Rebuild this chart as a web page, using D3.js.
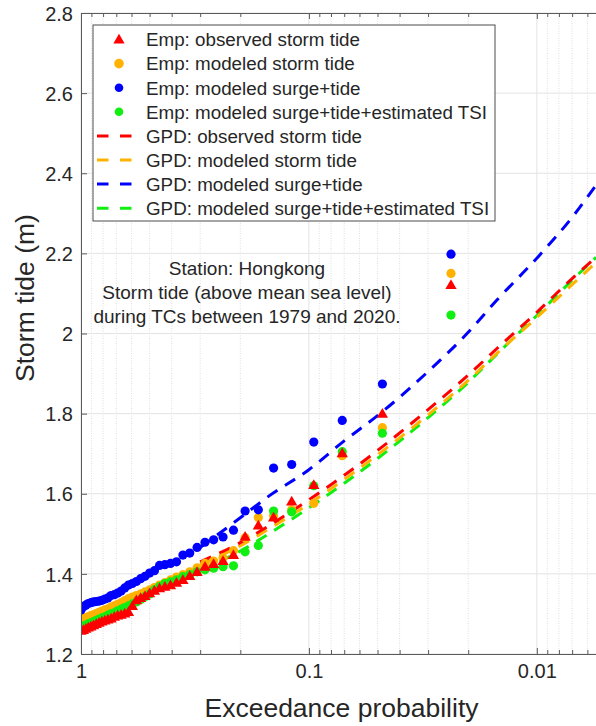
<!DOCTYPE html>
<html>
<head>
<meta charset="utf-8">
<script src="https://cdn.jsdelivr.net/npm/d3@7"></script>
<style>
  body { margin: 0; background: #fff; }
  svg { display: block; font-family: "Liberation Sans", Arial, sans-serif; }
</style>
</head>
<body>
<div id="chart"></div>
<script>
// empirical exceedance probability of each ranked event (rank 1 = largest)
const empProb = [0.0238, 0.0476, 0.0714, 0.0952, 0.1190, 0.1429, 0.1667, 0.1905, 0.2143, 0.2381,
  0.2619, 0.2857, 0.3095, 0.3333, 0.3571, 0.3810, 0.4048, 0.4286, 0.4524, 0.4762,
  0.5000, 0.5238, 0.5476, 0.5714, 0.5952, 0.6190, 0.6429, 0.6667, 0.6905, 0.7143,
  0.7381, 0.7619, 0.7857, 0.8095, 0.8333, 0.8571, 0.8810, 0.9048, 0.9286, 0.9524,
  0.9762, 1.0000];

const empObserved = [2.121, 1.800, 1.701, 1.622, 1.581, 1.541, 1.521, 1.493, 1.447, 1.432,
  1.425, 1.418, 1.405, 1.395, 1.385, 1.378, 1.372, 1.368, 1.364, 1.358,
  1.352, 1.345, 1.340, 1.334, 1.320, 1.305, 1.301, 1.298, 1.296, 1.293,
  1.289, 1.286, 1.284, 1.281, 1.278, 1.275, 1.272, 1.269, 1.266, 1.263,
  1.260, 1.258];

const empModeled = [2.150, 1.765, 1.695, 1.576, 1.560, 1.545, 1.541, 1.490, 1.458, 1.440,
  1.432, 1.426, 1.415, 1.405, 1.398, 1.392, 1.385, 1.378, 1.372, 1.366,
  1.360, 1.355, 1.350, 1.346, 1.342, 1.338, 1.333, 1.328, 1.324, 1.320,
  1.317, 1.313, 1.310, 1.307, 1.304, 1.301, 1.298, 1.296, 1.293, 1.291,
  1.289, 1.285];

const empSurgeTide = [2.198, 1.874, 1.783, 1.729, 1.673, 1.664, 1.560, 1.557, 1.509, 1.492,
  1.485, 1.479, 1.466, 1.452, 1.447, 1.430, 1.426, 1.423, 1.421, 1.408,
  1.402, 1.394, 1.388, 1.381, 1.376, 1.372, 1.365, 1.357, 1.352, 1.348,
  1.346, 1.340, 1.337, 1.334, 1.332, 1.331, 1.330, 1.328, 1.326, 1.322,
  1.318, 1.310];

const empSurgeTideTsi = [2.046, 1.751, 1.705, 1.620, 1.555, 1.557, 1.471, 1.455, 1.420, 1.418,
  1.414, 1.410, 1.405, 1.398, 1.393, 1.385, 1.380, 1.376, 1.368, 1.360,
  1.350, 1.343, 1.336, 1.330, 1.325, 1.320, 1.316, 1.312, 1.308, 1.303,
  1.300, 1.297, 1.293, 1.290, 1.287, 1.284, 1.281, 1.278, 1.275, 1.272,
  1.270, 1.267];

// GPD fitted curves, sampled at these probabilities
const gpdProb = [0.3, 0.2, 0.15, 0.1, 0.07, 0.05, 0.03, 0.02, 0.015, 0.01, 0.007, 0.0055];
const gpdObserved     = [1.430, 1.478, 1.520, 1.585, 1.646, 1.708, 1.810, 1.896, 1.962, 2.053, 2.137, 2.190];
const gpdModeled      = [1.425, 1.470, 1.512, 1.575, 1.636, 1.697, 1.797, 1.883, 1.950, 2.040, 2.122, 2.177];
const gpdSurgeTide    = [1.466, 1.540, 1.594, 1.660, 1.732, 1.795, 1.905, 2.003, 2.083, 2.188, 2.290, 2.370];
const gpdSurgeTideTsi = [1.410, 1.457, 1.500, 1.565, 1.626, 1.688, 1.790, 1.878, 1.948, 2.045, 2.133, 2.190];

const xMajor = [1, 0.1, 0.01];
const xTickLabels = ["1", "0.1", "0.01"];
const yTicks = [1.2, 1.4, 1.6, 1.8, 2.0, 2.2, 2.4, 2.6, 2.8];
const yTickLabels = ["1.2", "1.4", "1.6", "1.8", "2", "2.2", "2.4", "2.6", "2.8"];

const legendLabels = [
  "Emp: observed storm tide",
  "Emp: modeled storm tide",
  "Emp: modeled surge+tide",
  "Emp: modeled surge+tide+estimated TSI",
  "GPD: observed storm tide",
  "GPD: modeled storm tide",
  "GPD: modeled surge+tide",
  "GPD: modeled surge+tide+estimated TSI"
];
const noteLines = [
  "Station: Hongkong",
  "Storm tide (above mean sea level)",
  "during TCs between 1979 and 2020."
];

const RED = "#ff0000", ORANGE = "#ffb300", BLUE = "#0000ff", GREEN = "#11ee11";
const TXT = "#262626";

const W = 596, H = 726;
const m = { left: 81, top: 13, right: 0, bottom: 72 };

const svg = d3.select("#chart").append("svg")
  .attr("width", W).attr("height", H);

const x = d3.scaleLog().domain([1, 0.0055]).range([m.left, W - m.right]);
const y = d3.scaleLinear().domain([1.2, 2.8]).range([H - m.bottom, m.top]);

const plotL = m.left, plotR = W - m.right, plotT = m.top, plotB = H - m.bottom;

svg.append("defs").append("clipPath").attr("id", "clip")
  .append("rect").attr("x", plotL).attr("y", plotT)
  .attr("width", plotR - plotL).attr("height", plotB - plotT);

// minor x values (2..9 of each decade)
const xMinor = [];
[1, 0.1, 0.01].forEach(dec => {
  for (let k = 2; k <= 9; k++) {
    const v = dec * k / 10;
    if (v >= 0.0055) xMinor.push(v);
  }
});

// grid
const grid = svg.append("g");
grid.selectAll(".gx").data(xMinor).enter().append("line")
  .attr("x1", d => x(d)).attr("x2", d => x(d))
  .attr("y1", plotT).attr("y2", plotB)
  .attr("stroke", "#d6d6d6").attr("stroke-width", 0.8).attr("stroke-dasharray", "1,1.5");
grid.selectAll(".gxm").data(xMajor).enter().append("line")
  .attr("x1", d => x(d)).attr("x2", d => x(d))
  .attr("y1", plotT).attr("y2", plotB)
  .attr("stroke", "#e3e3e3").attr("stroke-width", 1);
grid.selectAll(".gy").data(yTicks).enter().append("line")
  .attr("x1", plotL).attr("x2", plotR)
  .attr("y1", d => y(d)).attr("y2", d => y(d))
  .attr("stroke", "#e3e3e3").attr("stroke-width", 1);

// GPD lines
const plot = svg.append("g").attr("clip-path", "url(#clip)");
const line = d3.line()
  .x(d => x(d[0])).y(d => y(d[1]))
  .curve(d3.curveMonotoneX);

const gpdSeries = [
  { v: gpdSurgeTideTsi, c: GREEN },
  { v: gpdModeled, c: ORANGE },
  { v: gpdObserved, c: RED },
  { v: gpdSurgeTide, c: BLUE }
];
gpdSeries.forEach(s => {
  plot.append("path")
    .datum(d3.zip(gpdProb, s.v))
    .attr("d", line)
    .attr("fill", "none")
    .attr("stroke", s.c)
    .attr("stroke-width", 3)
    .attr("stroke-dasharray", "12,9");
});

// empirical markers
const circ = (vals, color) => {
  plot.append("g").selectAll("circle")
    .data(d3.zip(empProb, vals)).enter().append("circle")
    .attr("cx", d => x(d[0])).attr("cy", d => y(d[1]))
    .attr("r", 4.6).attr("fill", color);
};
circ(empModeled, ORANGE);
circ(empSurgeTide, BLUE);
circ(empSurgeTideTsi, GREEN);

const tri = d3.symbol().type(d3.symbolTriangle).size(55);
plot.append("g").selectAll("path")
  .data(d3.zip(empProb, empObserved)).enter().append("path")
  .attr("d", tri)
  .attr("transform", d => `translate(${x(d[0])},${y(d[1]) + 0.8})`)
  .attr("fill", RED);

// axes
const axisColor = "#5a5a5a";
const xAxis = svg.append("g").attr("transform", `translate(0,${plotB})`)
  .call(d3.axisBottom(x).tickValues(xMajor).tickSizeInner(-6).tickSizeOuter(0)
    .tickPadding(10).tickFormat((d, i) => xTickLabels[i]));
const xMinorAxis = svg.append("g").attr("transform", `translate(0,${plotB})`)
  .call(d3.axisBottom(x).tickValues(xMinor).tickSizeInner(-4).tickSizeOuter(0).tickFormat(""));
const xTop = svg.append("g").attr("transform", `translate(0,${plotT})`)
  .call(d3.axisTop(x).tickValues(xMajor).tickSizeInner(-6).tickSizeOuter(0).tickFormat(""));
const xTopMinor = svg.append("g").attr("transform", `translate(0,${plotT})`)
  .call(d3.axisTop(x).tickValues(xMinor).tickSizeInner(-4).tickSizeOuter(0).tickFormat(""));
const yAxis = svg.append("g").attr("transform", `translate(${plotL},0)`)
  .call(d3.axisLeft(y).tickValues(yTicks).tickSizeInner(-6).tickSizeOuter(0)
    .tickPadding(8).tickFormat((d, i) => yTickLabels[i]));

[xAxis, xMinorAxis, xTop, xTopMinor, yAxis].forEach(g => {
  g.select(".domain").attr("stroke", axisColor).attr("stroke-width", 1);
  g.selectAll(".tick line").attr("stroke", axisColor).attr("stroke-width", 1);
  g.selectAll("text").attr("fill", TXT).attr("font-size", 20)
    .attr("font-family", "Liberation Sans, Arial, sans-serif");
});
xAxis.selectAll("text").attr("dy", "0.71em");
yAxis.selectAll("text").attr("dy", "0.36em");

// axis titles
svg.append("text")
  .attr("x", 341.5).attr("y", 717)
  .attr("text-anchor", "middle")
  .attr("font-size", 26.5).attr("fill", TXT)
  .text("Exceedance probability");
svg.append("text")
  .attr("transform", "translate(34,298) rotate(-90)")
  .attr("text-anchor", "middle")
  .attr("font-size", 26.5).attr("fill", TXT)
  .text("Storm tide (m)");

// annotation
svg.append("g").selectAll("text").data(noteLines).enter().append("text")
  .attr("x", 247).attr("y", (d, i) => 275 + i * 24)
  .attr("text-anchor", "middle")
  .attr("font-size", 19).attr("fill", TXT)
  .text(d => d);

// legend
const lg = svg.append("g");
lg.append("rect")
  .attr("x", 93).attr("y", 25).attr("width", 402).attr("height", 196)
  .attr("fill", "#fff").attr("stroke", "#4d4d4d").attr("stroke-width", 1);

const legendItems = [
  { type: "tri", c: RED },
  { type: "dot", c: ORANGE },
  { type: "dot", c: BLUE },
  { type: "dot", c: GREEN },
  { type: "line", c: RED },
  { type: "line", c: ORANGE },
  { type: "line", c: BLUE },
  { type: "line", c: GREEN }
];
const rowY = i => 39.5 + i * 24.1;
legendItems.forEach((it, i) => {
  const cy = rowY(i);
  if (it.type === "tri") {
    lg.append("path").attr("d", tri).attr("transform", `translate(119,${cy + 0.8})`).attr("fill", it.c);
  } else if (it.type === "dot") {
    lg.append("circle").attr("cx", 119).attr("cy", cy).attr("r", it.c === ORANGE ? 4.8 : 4.3).attr("fill", it.c);
  } else {
    lg.append("line").attr("x1", 97).attr("x2", 132).attr("y1", cy).attr("y2", cy)
      .attr("stroke", it.c).attr("stroke-width", 3).attr("stroke-dasharray", "11.5,11.5");
  }
  lg.append("text")
    .attr("x", 146).attr("y", cy + 6.8)
    .attr("font-size", 18.8).attr("fill", TXT)
    .text(legendLabels[i]);
});
</script>
</body>
</html>
